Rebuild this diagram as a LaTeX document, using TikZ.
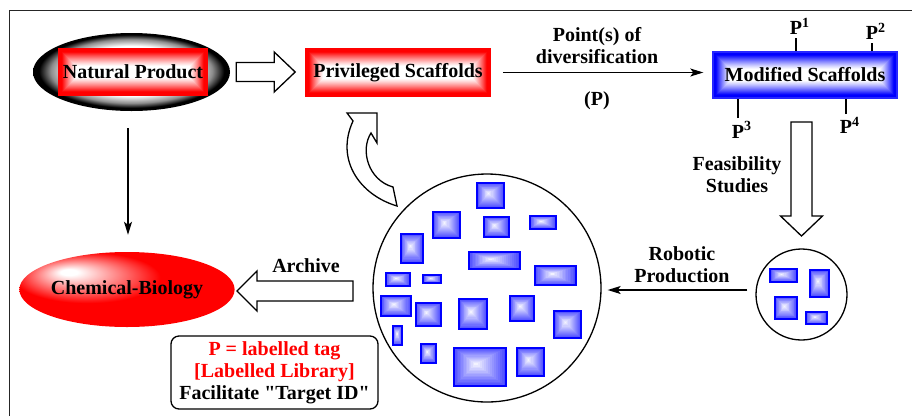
\documentclass[tikz,border=0pt]{standalone}
\usepackage{fontspec}
\setmainfont{Liberation Serif}
\newfontfamily\qfont{Liberation Serif}
\usetikzlibrary{calc,arrows.meta,shapes.geometric}

\pgfdeclareradialshading{npshade}{\pgfpoint{0bp}{1bp}}{color(0bp)=(white); color(16bp)=(white); color(20.5bp)=(black!45); color(23.5bp)=(black); color(50bp)=(black)}
\pgfdeclareradialshading{cbshade}{\pgfpoint{-14bp}{12bp}}{color(0bp)=(white); color(2bp)=(white); color(17bp)=(red); color(50bp)=(red)}

\tikzset{
  txt/.style={font=\fontsize{20}{22}\selectfont\bfseries, inner sep=0pt},
  ugrad/.style n args={2}{path picture={
      \foreach \k in {0,...,#2}{
        \pgfmathsetmacro\myc{100*(max(0,min(1,1.6*(1-\k/#2)-0.42)))^1.2}
        \fill[#1!\myc!white] ([shift={(\k pt,\k pt)}]path picture bounding box.south west)
          rectangle ([shift={(-\k pt,-\k pt)}]path picture bounding box.north east);
      }}},
  fgrad/.style={path picture={
      \coordinate (F) at ($(path picture bounding box.north west)!0.42!(path picture bounding box.south east)$);
      \foreach \k in {0,...,14}{
        \pgfmathsetmacro\myt{\k/15}
        \pgfmathsetmacro\myc{70*(1-\myt)}
        \fill[blue!\myc!white] ($(path picture bounding box.south west)!\myt!(F)$)
          rectangle ($(path picture bounding box.north east)!\myt!(F)$);
      }}},
  redbox/.style={txt, rectangle, draw=red, line width=1.6pt, ugrad={red}{23}},
  bluebox/.style={txt, rectangle, draw=blue!85, line width=1.4pt, ugrad={blue}{23}},
  brect/.style={draw=blue, line width=2.2pt, fgrad},
  conn/.style={line width=1.3pt, -{Stealth[length=13pt,width=8pt,inset=3pt]}},
  plain/.style={line width=1.2pt},
  barrow/.style={draw, line width=1.3pt, fill=white, line join=miter},
  ring/.style={circle, draw, line width=1.3pt, inner sep=0pt},
}

\begin{document}
\begin{tikzpicture}[x=1pt,y=-1pt]
\useasboundingbox (0,0) rectangle (912,416);

% frame
\draw[line width=1.6pt, black!85] (9.5,416) -- (9.5,10.5) -- (912,10.5);

% Natural product
\node[ellipse, minimum width=197, minimum height=78, inner sep=0pt, shading=npshade] (np) at (131.5,72) {};
\node[redbox, minimum width=148, minimum height=46] (npbox) at (133,72) {Natural Product};

% Privileged scaffolds
\node[redbox, minimum width=184, minimum height=47] (ps) at (398,72.5) {Privileged Scaffolds};

% Modified scaffolds
\node[bluebox, minimum width=184, minimum height=46] (ms) at (805,75) {Modified Scaffolds};

% Chemical-Biology
\node[txt, ellipse, minimum width=188, minimum height=75, shading=cbshade] (cb) at (127,289.5) {Chemical-Biology};

% circles
\node[ring, minimum size=228] (bc) at (487,288) {};
\node[ring, minimum size=91] (sc) at (801.5,294.5) {};

% text box
\node[txt, draw, line width=1.3pt, rounded corners=8pt, minimum width=207, minimum height=73, align=center] (tb) at (274.5,372.5)
  {\textcolor{red}{P = labelled tag}\\\textcolor{red}{[Labelled Library]}\\Facilitate {\qfont"}Target ID{\qfont"}};

% block arrow NP -> PS
\coordinate (ra) at ($(np.east)+(6,0)$);
\draw[barrow] (ra) ++(0,-9.5) -- ++(38,0) -- ++(0,-10.5) -- ++(21,20) -- ++(-21,20) -- ++(0,-10.5) -- ++(-38,0) -- cycle;

% Point(s) of diversification
\draw[conn] ($(ps.east)+(12,0)$) -- ($(ps.east -| ms.west)+(-9,0)$);
\node[txt, align=center] (pod) at (597,46) {Point(s) of\\diversification};
\node[txt] (pp) at (597,101) {(P)};

% P labels
\node[txt, anchor=south] (p1) at (796,35) {P\rlap{\textsuperscript{1}}};
\node[txt, anchor=south] (p2) at (872,40) {P\rlap{\textsuperscript{2}}};
\node[txt, anchor=north] (p3) at (738,121) {P\rlap{\textsuperscript{3}}};
\node[txt, anchor=north] (p4) at (846,117) {P\rlap{\textsuperscript{4}}};
\draw[plain] ([yshift=-3]p1.south) -- (p1.south |- ms.north);
\draw[plain] ([yshift=-3]p2.south) -- (p2.south |- ms.north);
\draw[plain] ([yshift=3]p3.north) -- (p3.north |- ms.south);
\draw[plain] ([yshift=3]p4.north) -- (p4.north |- ms.south);

% Feasibility block arrow
\coordinate (da) at (801.5,122);
\draw[barrow] (da) ++(-10.5,0) -- ++(0,94) -- ++(-10.5,0) -- ++(21,20) -- ++(21,-20) -- ++(-10.5,0) -- ++(0,-94) -- cycle;
\node[txt, align=center] (fs) at (737,175) {Feasibility\\Studies};

% Robotic production
\coordinate (rpS) at ($(sc.west)+(-8,-4.5)$);
\path ($(bc.east)+(6,0)$) coordinate (rpE);
\draw[conn] (rpS) -- (rpE |- rpS);
\node[txt, align=center] (rp) at (682,265) {Robotic\\Production};

% Archive block arrow
\coordinate (aa) at (353,291);
\draw[barrow] (aa) ++(0,-10) -- ++(-96,0) -- ++(0,-10) -- ++(-20,20) -- ++(20,20) -- ++(0,-10) -- ++(96,0) -- cycle;
\node[txt] (ar) at (306,266) {Archive};

% NP -> Chemical-Biology
\draw[conn] ($(np.south)+(-3.5,17)$) -- ($(cb.north)+(1,-17)$);

% curved block arrow back to PS
\draw[barrow] (397,206) .. controls (360,195) and (335,160) .. (353,121) -- (347,113) -- (377,113) -- (377,143) -- (371,133) .. controls (360,150) and (368,180) .. (393,187) -- cycle;

% library members in big circle
\foreach \a/\b/\c/\d in {477/183/504/208, 433/212/460/238, 484/217/509/237, 530/216/556/229,
  401/234/423/263, 469/252/520/269, 386/273/410/286, 423/275/441/283, 535/266/576/285,
  381/296/411/316, 416/303/441/326, 459/299/487/329, 510/296/534/321, 554/311/581/338,
  393/326/402/345, 421/344/436/363, 454/348/506/386, 517/348/544/376}
  \path[brect] (\a,\b) rectangle (\c,\d);

% small circle members
\foreach \a/\b/\c/\d in {770/269/797/282, 810/270/829/297, 775/297/797/319, 806/312/827/324}
  \path[brect] (\a,\b) rectangle (\c,\d);

\end{tikzpicture}
\end{document}
